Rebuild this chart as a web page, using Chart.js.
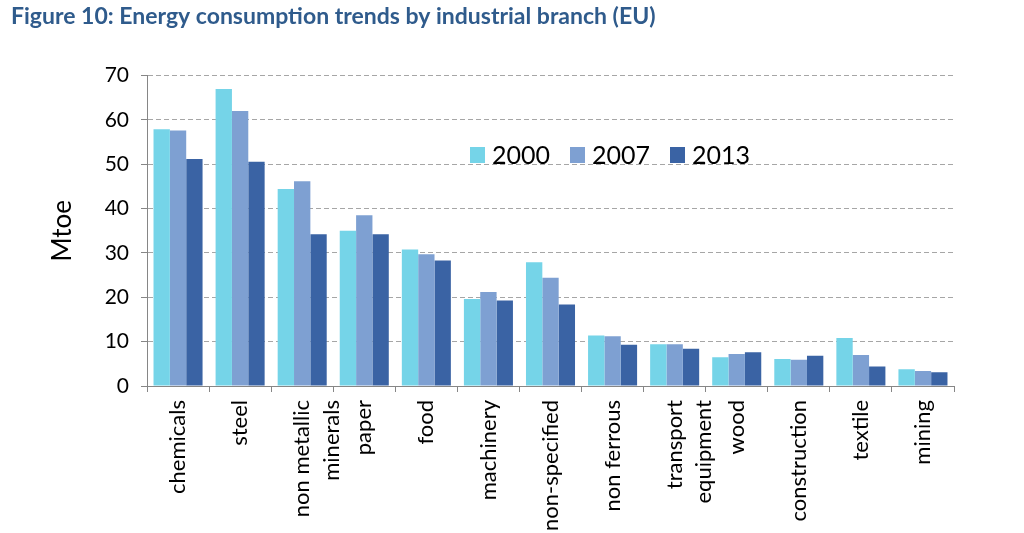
<!DOCTYPE html>
<html>
<head>
<meta charset="utf-8">
<script src="https://cdn.jsdelivr.net/npm/chart.js@4/dist/chart.umd.min.js"></script>
<style>
  html, body { margin: 0; padding: 0; background: #fff; }
  #wrap { width: 1024px; height: 533px; position: relative; }
</style>
</head>
<body>
<div id="wrap"><canvas id="c" width="1024" height="533"></canvas></div>
<script>
const titleText = 'Figure 10: Energy consumption trends by industrial branch (EU)';
const categories = ['chemicals', 'steel', ['non metallic', 'minerals'], 'paper', 'food', 'machinery', 'non-specified', 'non ferrous', ['transport', 'equipment'], 'wood', 'construction', 'textile', 'mining'];
const seriesNames = ['2000', '2007', '2013'];
const values2000 = [57.9, 67.0, 44.4, 35.0, 30.8, 19.6, 27.9, 11.4, 9.4, 6.5, 6.1, 10.8, 3.8];
const values2007 = [57.6, 62.0, 46.2, 38.5, 29.7, 21.2, 24.4, 11.2, 9.4, 7.2, 5.9, 7.0, 3.4];
const values2013 = [51.2, 50.6, 34.2, 34.2, 28.3, 19.3, 18.4, 9.3, 8.4, 7.6, 6.8, 4.4, 3.1];
const yTicks = [0, 10, 20, 30, 40, 50, 60, 70];
const yTitle = 'Mtoe';

const colors = ['#75d4e8', '#7ea0d2', '#3a63a4'];
const FONT = 'Lato, "Open Sans", sans-serif';

const legendPlugin = {
  id: 'inlineLegend',
  afterDraw(chart) {
    const ctx = chart.ctx;
    ctx.save();
    ctx.font = '25px ' + FONT;
    ctx.textBaseline = 'middle';
    ctx.textAlign = 'left';
    let x = 470;
    const y = 155;
    chart.data.datasets.forEach(ds => {
      ctx.fillStyle = ds.backgroundColor;
      ctx.fillRect(x, y - 8, 15, 16);
      ctx.fillStyle = '#000';
      ctx.fillText(ds.label, x + 22, y + 1);
      x += 22 + ctx.measureText(ds.label).width + 20;
    });
    ctx.restore();
  }
};

new Chart(document.getElementById('c'), {
  type: 'bar',
  data: {
    labels: categories,
    datasets: [
      { label: seriesNames[0], data: values2000, backgroundColor: colors[0] },
      { label: seriesNames[1], data: values2007, backgroundColor: colors[1] },
      { label: seriesNames[2], data: values2013, backgroundColor: colors[2] }
    ]
  },
  options: {
    responsive: false,
    animation: false,
    devicePixelRatio: 1,
    layout: { padding: { left: 11, right: 70, top: 0, bottom: 0 } },
    datasets: { bar: { categoryPercentage: 0.79, barPercentage: 1.0 } },
    plugins: {
      legend: { display: false },
      tooltip: { enabled: false },
      title: {
        display: true,
        text: titleText,
        align: 'start',
        color: '#2f5b8c',
        font: { family: FONT, size: 23, weight: 'bold' },
        padding: { top: 3, bottom: 45 }
      }
    },
    scales: {
      x: {
        grid: { display: true, drawOnChartArea: false, offset: true, color: '#868686', tickLength: 6 },
        border: { display: true, color: '#868686', width: 1 },
        ticks: {
          color: '#000',
          font: { family: FONT, size: 22, lineHeight: 1.35 },
          minRotation: 90, maxRotation: 90,
          autoSkip: false,
          padding: 8
        },
        afterFit(scale) { scale.height = 147; }
      },
      y: {
        min: 0, max: 70,
        afterBuildTicks(scale) { scale.ticks = yTicks.map(v => ({ value: v })); },
        grid: { color: '#a6a6a6', tickColor: '#868686', tickLength: 6, drawTicks: true },
        border: { display: true, color: '#868686', width: 1, dash: [5, 3] },
        ticks: {
          color: '#000',
          font: { family: FONT, size: 21 },
          padding: 12
        },
        title: {
          display: true,
          text: yTitle,
          color: '#000',
          font: { family: FONT, size: 26 },
          padding: { top: 36, bottom: 0 }
        },
        afterFit(scale) { scale.width = 136; }
      }
    }
  },
  plugins: [legendPlugin]
});
</script>
</body>
</html>
